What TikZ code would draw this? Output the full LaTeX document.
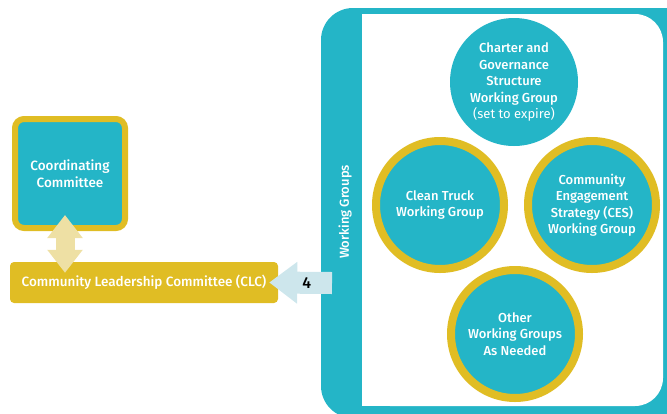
\documentclass[tikz,border=0pt]{standalone}
\usepackage{fontspec}
\setmainfont{Fira Sans}[UprightFont={* Medium}, BoldFont={* SemiBold}]
\newfontfamily\lightfont{Fira Sans}
\usetikzlibrary{arrows.meta, positioning}
\definecolor{teal}{RGB}{36,181,199}
\definecolor{gold}{RGB}{224,189,36}
\definecolor{palegold}{RGB}{238,224,164}
\definecolor{paleblue}{RGB}{205,230,236}

\tikzset{
    group/.style={circle, fill=teal, text=white, minimum size=128pt, inner sep=0pt,
        align=center, font=\fontsize{13}{16.5}\selectfont},
    ringed/.style={group, draw=gold, line width=8pt},
    committee/.style={fill=gold, text=white, font=\fontsize{13.5}{17}\selectfont}
}

\begin{document}
\begin{tikzpicture}[x=1pt, y=-1pt]
        \useasboundingbox (0,0) rectangle (667,413);

        % Working groups frame
        \fill[teal, rounded corners=32pt] (321,8) rectangle (700,418);
        \fill[white, rounded corners=28pt] (362,14) rectangle (663,406);
        \fill[white] (362,14) rectangle (420,406);
        \node[rotate=90, text=white, font=\fontsize{13}{16}\selectfont] (wglabel) at (345,212) {Working Groups};
        \coordinate (wgin) at (332,283);

        % Circles
        \node[group] (charter) at (514,82) {Charter and\\Governance\\Structure\\Working Group\\{\lightfont(set to expire)}};
        \node[ringed] (truck) at (440,205) {Clean Truck\\Working Group};
        \node[ringed] (ces) at (592,205) {Community\\Engagement\\Strategy (CES)\\Working Group};
        \node[ringed] (other) at (515,334) {Other\\Working Groups\\As Needed};

        % Committees
        \node[committee, draw=gold, line width=6pt, fill=teal, rounded corners=9pt,
            minimum width=110pt, minimum height=109pt, align=center] (coord) at (70,173.5) {Coordinating\\Committee};
        \node[committee, rounded corners=4pt, minimum width=268pt, minimum height=41pt] (clc) at (144,282.5) {Community Leadership Committee (CLC)};

        % Connectors
        \draw[palegold, line width=19pt, {Triangle[width=34pt, length=23pt]}-{Triangle[width=34pt, length=23pt]}]
            ([xshift=-5pt, yshift=16pt]coord.south) -- ([xshift=-79pt, yshift=-11pt]clc.north);
        \draw[paleblue, line width=22pt, -{Triangle[width=40pt, length=28pt]}]
            (wgin) -- ([xshift=-9pt]clc.east) node[pos=0.4, text=black, font=\fontsize{16}{16}\selectfont] (four) {4};
\end{tikzpicture}
\end{document}
